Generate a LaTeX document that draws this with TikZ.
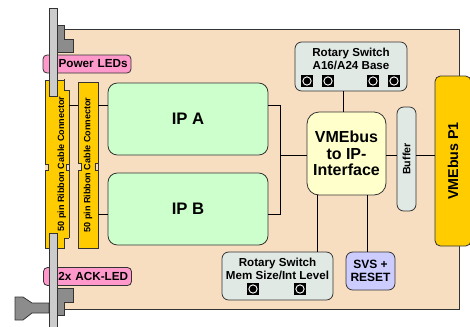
\documentclass[tikz,border=0pt]{standalone}
\usepackage{fontspec}
\setmainfont{Liberation Sans}
\usetikzlibrary{positioning}
\definecolor{platine}{HTML}{F8DEC1}
\definecolor{ipGruen}{HTML}{CCFFCC}
\definecolor{vmeGelb}{HTML}{FFFFCC}
\definecolor{schalterGrau}{HTML}{E1E9E5}
\definecolor{svsLila}{HTML}{CCCCFF}
\definecolor{ledRosa}{HTML}{FF99CC}
\definecolor{steckerGelb}{HTML}{FFCC00}
\definecolor{linie}{HTML}{333333}

\begin{document}
\begin{tikzpicture}[x=0.75pt, y=-0.75pt, font=\bfseries, line width=0.6pt,
        box/.style={draw=linie, rounded corners=5pt, align=center, inner sep=0pt},
        ipbox/.style={box, fill=ipGruen, rounded corners=7pt, minimum width=120pt, minimum height=54pt,
            font=\bfseries\fontsize{12.5}{14}\selectfont},
        schalter/.style={box, fill=schalterGrau},
        led/.style={box, fill=ledRosa, rounded corners=3pt, minimum height=13.5pt,
            text width=61pt, align=right, inner xsep=2.5pt, font=\bfseries\fontsize{8.8}{10}\selectfont},
        stecker/.style={draw=linie, fill=steckerGelb, inner sep=0pt},
        knopf/.style={fill=black, minimum size=9pt, inner sep=0pt,
            path picture={\draw[white, line width=0.7pt] (path picture bounding box.center) circle (3.1pt);}},
        klein/.style={font=\bfseries\fontsize{8.7}{9.6}\selectfont, align=center, inner sep=0pt},
        verb/.style={draw=black, line width=0.6pt}]
        \useasboundingbox (0,0) rectangle (470,326);
        % Platine
        \fill[platine, draw=linie] (56,29) rectangle (459,309);
        % LEDs
        \node[led] (pwr) at (87,64) {Power LEDs};
        \node[led] (ack) at (87.5,276.5) {2x ACK-LED};
        % Steckverbinder
        \node[stecker, minimum width=18pt, minimum height=126pt] (conA) at (57,164)
            {\hspace*{7pt}\rotatebox{90}{\fontsize{6.8}{7}\selectfont 50 pin Ribbon Cable Connector}};
        \node[stecker, minimum width=15pt, minimum height=124.5pt] (conB) at (88,165)
            {\rotatebox{90}{\fontsize{6.8}{7}\selectfont 50 pin Ribbon Cable Connector}};
        \foreach \xa/\xb/\ya/\yb in {45/48/164/170, 69/66/164/170, 78/81/163/170, 98/95/163/170}
            {\fill[platine] (\xa,\ya) rectangle (\xb,\yb);
             \draw[linie] (\xa,\ya) -- (\xb,\ya) -- (\xb,\yb) -- (\xa,\yb);}
        \foreach \ya/\yb/\yc in {79/90/90, 249/238/238}
            {\fill[platine] (64,\ya) rectangle (70,\yb);
             \draw[linie] (64,\ya) -- (64,\yc) -- (69.4,\yc);}
        % Frontblende
        \fill[black!45, draw=linie] (57,25) -- (64,25) -- (64,39) -- (73,39) -- (73,52) -- (57,52) -- cycle;
        \fill[black!45, draw=linie] (57,288) -- (73,288) -- (73,302) -- (64,302) -- (64,315) -- (57,315) -- cycle;
        \fill[black!45, draw=linie] (15,297) -- (23,297) -- (32,303) -- (49,303) -- (49,313) -- (32,313)
            -- (23,320) -- (15,320) -- cycle;
        \fill[black!20, draw=linie] (49,8) rectangle (57,96);
        \fill[black!20, draw=linie] (49,233) rectangle (57,330);
        % IP-Module
        \node[ipbox] (ipa) at (188,119) {IP A};
        \node[ipbox] (ipb) at (188,209) {IP B};
        % Interface
        \node[box, fill=vmeGelb, rounded corners=9pt, minimum width=59.25pt, minimum height=62.25pt,
            font=\bfseries\fontsize{12}{12.5}\selectfont] (vme) at (346.5,153.5) {VMEbus\\to IP-\\Interface};
        \node[schalter, minimum width=84pt, minimum height=36.75pt] (rsa) at (351,66.5) {};
        \node[klein, anchor=north] (rsaText) at (351,47.5) {Rotary Switch\\A16/A24 Base};
        \foreach \x in {307,328,373,394} \node[knopf] at (\x,81) {};
        \node[schalter, minimum width=83.25pt, minimum height=36pt] (rsm) at (277.5,276) {};
        \node[klein, anchor=north, font=\bfseries\fontsize{8.7}{9.75}\selectfont] (rsmText) at (277.5,257.5)
            {Rotary Switch\\Mem Size/Int Level};
        \foreach \x in {253,300} \node[knopf] at (\x,289) {};
        \node[box, fill=svsLila, minimum width=36.75pt, minimum height=28.5pt,
            font=\bfseries\fontsize{9}{9.75}\selectfont] (svs) at (370.5,271) {SVS +\\RESET};
        \node[schalter, minimum width=14.25pt, minimum height=78pt] (buf) at (406.5,159)
            {\rotatebox{90}{\fontsize{8}{9}\selectfont Buffer}};
        \node[stecker, rounded corners=4pt, minimum width=27pt, minimum height=127.5pt] (p1) at (453,161)
            {\rotatebox{90}{\fontsize{10.7}{12}\selectfont VMEbus P1}};
        % Verbindungen
        \draw[verb] (conA.east |- 0,105) -- (conB.west |- 0,105);
        \draw[verb] (conB.east |- 0,105) -- (ipa.west |- 0,105);
        \draw[verb] (conB.east |- 0,214) -- (ipb.west |- 0,214);
        \draw[verb] (ipa.east |- 0,105) -| (280,214) -- (ipb.east |- 0,214);
        \draw[verb] (280,155) -- (vme.west |- 0,155);
        \draw[verb] (vme.east |- 0,155) -- (buf.west |- 0,155);
        \draw[verb] (buf.east |- 0,155) -- (p1.west |- 0,155);
        \draw[verb] (rsa.south -| 343,0) -- (vme.north -| 343,0);
        \draw[verb] (vme.south -| 317,0) -- (rsm.north -| 317,0);
        \draw[verb] (vme.south -| 367,0) -- (svs.north -| 367,0);
    \end{tikzpicture}
\end{document}
